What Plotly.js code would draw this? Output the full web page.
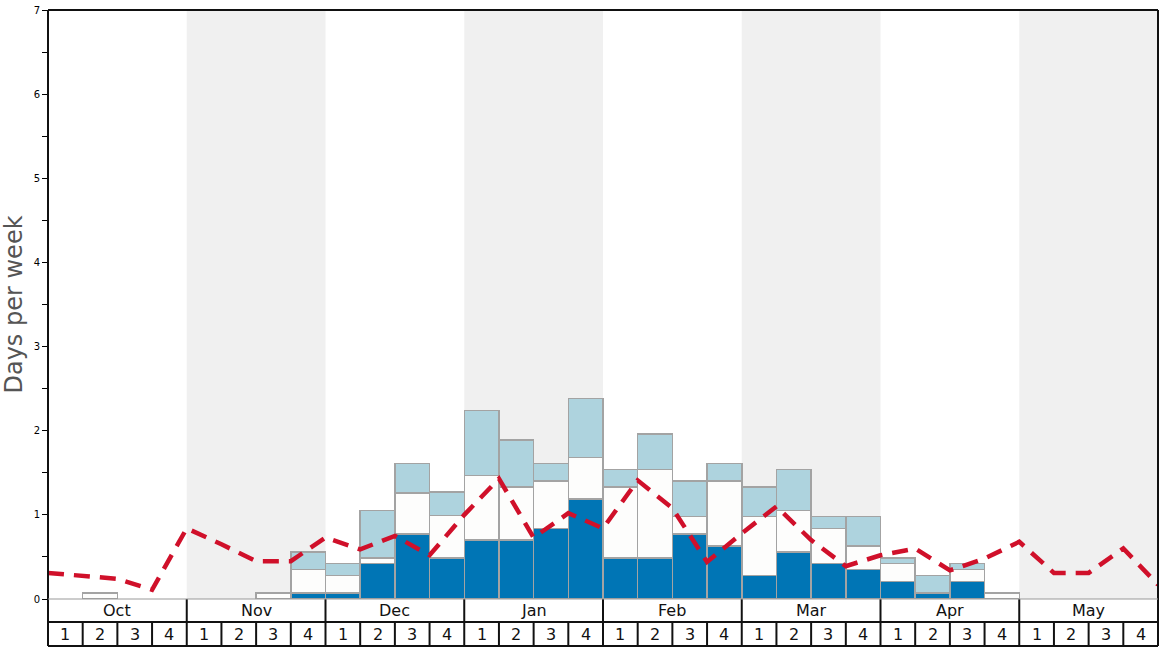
<!DOCTYPE html>
<html>
<head>
<meta charset="utf-8">
<script src="https://cdn.plot.ly/plotly-3.0.1.min.js"></script>
<style>html,body{margin:0;padding:0;background:#fff;}#chart{width:1168px;height:648px;}</style>
</head>
<body>
<div id="chart"></div>
<script>
const months = ["Oct","Nov","Dec","Jan","Feb","Mar","Apr","May"];
const weekLabels = ["1","2","3","4"];
const shadedMonths = ["Nov","Jan","Mar","May"];

// stacked segments per week (32 weeks: Oct 1 ... May 4)
const darkDays = [null,null,null,null, null,null,null,0.07, 0.07,0.42,0.77,0.49, 0.70,0.70,0.84,1.19, 0.49,0.49,0.77,0.63, 0.28,0.56,0.42,0.35, 0.21,0.07,0.21,null, null,null,null,null];
const whiteDays = [null,0.07,null,null, null,null,0.07,0.28, 0.21,0.07,0.49,0.50, 0.77,0.63,0.56,0.49, 0.84,1.05,0.21,0.77, 0.70,0.49,0.42,0.28, 0.21,null,0.14,0.07, null,null,null,null];
const lightDays = [null,null,null,null, null,null,null,0.21, 0.14,0.56,0.35,0.28, 0.77,0.56,0.21,0.70, 0.21,0.42,0.42,0.21, 0.35,0.49,0.14,0.35, 0.07,0.21,0.07,null, null,null,null,null];

// dashed line, one value per week boundary (33)
const lineDays = [0.31,0.28,0.24,0.11,0.84,0.65,0.45,0.45,0.73,0.59,0.75,0.52,1.00,1.43,0.73,1.02,0.84,1.41,1.08,0.44,0.78,1.10,0.70,0.39,0.52,0.60,0.34,0.48,0.68,0.31,0.31,0.60,0.17];

const nWeeks = darkDays.length;
const barX = darkDays.map((_, i) => i + 0.5);
const lineX = lineDays.map((_, i) => i);
const barLine = {color: '#a3a3a3', width: 1.5};

const traces = [
  {type:'bar', x: barX, y: darkDays, width: 1, marker:{color:'#0075b5', line: barLine}, hoverinfo:'skip', showlegend:false},
  {type:'bar', x: barX, y: whiteDays, width: 1, marker:{color:'#fdfdfc', line: barLine}, hoverinfo:'skip', showlegend:false},
  {type:'bar', x: barX, y: lightDays, width: 1, marker:{color:'#aed3de', line: barLine}, hoverinfo:'skip', showlegend:false},
  {type:'scatter', mode:'lines', x: lineX, y: lineDays, line:{color:'#d0102a', width:4.5, dash:'16px,10px'}, hoverinfo:'skip', showlegend:false, cliponaxis:false}
];

const shapes = [];
const annotations = [];
const monthRowBottom = -23/589;
const weekRowBottom = -47/589;

months.forEach((m, k) => {
  if (shadedMonths.includes(m)) {
    shapes.push({type:'rect', xref:'x', yref:'paper', x0:k*4, x1:k*4+4, y0:0, y1:1, fillcolor:'#f0f0f0', line:{width:0}, layer:'below'});
  }
  annotations.push({xref:'x', yref:'paper', x:k*4+2, y:(0+monthRowBottom)/2, text:m, showarrow:false, xanchor:'center', yanchor:'middle', font:{size:16, color:'#111', family:'DejaVu Sans'}});
  weekLabels.forEach((w, j) => {
    annotations.push({xref:'x', yref:'paper', x:k*4+j+0.5, y:(monthRowBottom+weekRowBottom)/2, text:w, showarrow:false, xanchor:'center', yanchor:'middle', font:{size:16, color:'#111', family:'DejaVu Sans'}});
  });
});

// table grid below the plot
for (let i = 0; i <= nWeeks; i++) {
  const isMonth = i % 4 === 0;
  shapes.push({type:'line', xref:'paper', yref:'paper', x0:i/nWeeks, x1:i/nWeeks, y0:isMonth ? (i===0||i===nWeeks ? 1 : 0) : monthRowBottom, y1:weekRowBottom, line:{color:'#111', width:2}});
}
shapes.push({type:'line', xref:'paper', yref:'paper', x0:0, x1:1, y0:0, y1:0, line:{color:'#999', width:1}});
shapes.push({type:'line', xref:'paper', yref:'paper', x0:0, x1:1, y0:monthRowBottom, y1:monthRowBottom, line:{color:'#111', width:2}});
shapes.push({type:'line', xref:'paper', yref:'paper', x0:0, x1:1, y0:weekRowBottom, y1:weekRowBottom, line:{color:'#111', width:2}});
shapes.push({type:'line', xref:'paper', yref:'paper', x0:0, x1:1, y0:1, y1:1, line:{color:'#111', width:2}});

const layout = {
  width: 1168, height: 648,
  margin: {l:48, r:10, t:10, b:49},
  paper_bgcolor:'#ffffff', plot_bgcolor:'rgba(0,0,0,0)',
  barmode:'stack', bargap:0,
  font:{family:'DejaVu Sans', color:'#000'},
  xaxis:{range:[0, nWeeks], showticklabels:false, ticks:'', showgrid:false, zeroline:false, showline:false, fixedrange:true},
  yaxis:{range:[0,7], tickvals:[0,1,2,3,4,5,6,7], ticks:'outside', ticklen:5, tickwidth:1, tickcolor:'#000',
         minor:{dtick:0.5, ticks:'outside', ticklen:5, tickcolor:'#000', tickwidth:1},
         tickfont:{size:10, color:'#000'}, showgrid:false, zeroline:false, showline:false,
         title:{text:'Days per week', font:{size:24, color:'#555'}, standoff:9}, automargin:false},
  shapes: shapes,
  annotations: annotations
};

Plotly.newPlot('chart', traces, layout, {displayModeBar:false, staticPlot:true});
</script>
</body>
</html>
